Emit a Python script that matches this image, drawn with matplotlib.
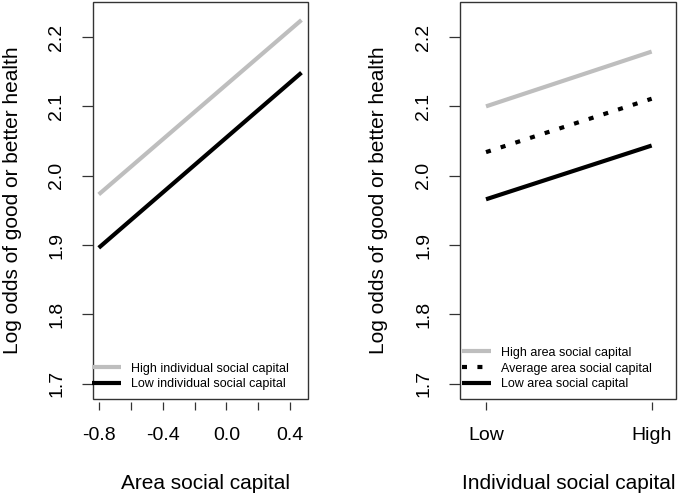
import matplotlib
matplotlib.use("Agg")
import matplotlib.pyplot as plt
from matplotlib.patches import Rectangle

plt.rcParams['font.family'] = ['Liberation Sans', 'DejaVu Sans']
plt.rcParams['axes.unicode_minus'] = False

# left panel: log odds vs area social capital
area_x = [-0.8, 0.47]
high_indiv = [1.973, 2.2245]
low_indiv = [1.896, 2.1486]
area_ticks = [-0.8, -0.6, -0.4, -0.2, 0.0, 0.2, 0.4]
area_ticklabels = ['-0.8', '', '-0.4', '', '0.0', '', '0.4']

# right panel: log odds vs individual social capital
indiv_x = [1, 2]
indiv_ticklabels = ['Low', 'High']
high_area = [2.100, 2.179]
avg_area = [2.034, 2.111]
low_area = [1.966, 2.0435]

y_ticks = [1.7, 1.8, 1.9, 2.0, 2.1, 2.2]
y_ticklabels = ['1.7', '1.8', '1.9', '2.0', '2.1', '2.2']

GREY = '#bebebe'
LW = 3.0

fig = plt.figure(figsize=(6.85, 4.96), dpi=100)
ax1 = fig.add_axes([93 / 685, 1 - 399 / 496, 215 / 685, 397 / 496])
ax2 = fig.add_axes([460 / 685, 1 - 399 / 496, 216 / 685, 397 / 496])


def style_axes(ax, xlabel, xlabel_x):
    ax.set_ylim(1.678, 2.2505)
    ax.set_yticks(y_ticks, y_ticklabels)
    for s in ax.spines.values():
        s.set_visible(False)
    ax.spines['bottom'].set_position(('outward', 2.5))
    ax.add_patch(Rectangle((0, 0), 1, 1, transform=ax.transAxes, fill=False,
                           edgecolor='#333333', linewidth=1.0, clip_on=False))
    ax.tick_params(axis='y', direction='out', length=8, width=0.9, pad=12,
                   labelsize=14, labelrotation=90, color='#333333')
    ax.tick_params(axis='x', direction='out', length=6, width=0.9, pad=12,
                   labelsize=14, color='#333333')
    for lbl in ax.get_yticklabels():
        lbl.set_va('center')
    ax.set_ylabel('Log odds of good or better health', fontsize=15, va='center')
    ax.yaxis.set_label_coords(-0.375, 0.5)
    ax.set_xlabel(xlabel, fontsize=15, va='center')
    ax.xaxis.set_label_coords(xlabel_x, -0.212)


def add_legend(ax, x0):
    ax.legend(loc='lower left', bbox_to_anchor=(x0, 0.022), frameon=False,
              fontsize=9, handlelength=2.3, handletextpad=0.8,
              labelspacing=0.3, borderpad=0, borderaxespad=0)


ax1.plot(area_x, high_indiv, color=GREY, lw=LW, solid_capstyle='butt',
         label='High individual social capital')
ax1.plot(area_x, low_indiv, color='black', lw=LW, solid_capstyle='butt',
         label='Low individual social capital')
ax1.set_xlim(-0.836, 0.511)
ax1.set_xticks(area_ticks, area_ticklabels)
style_axes(ax1, 'Area social capital', 0.525)
add_legend(ax1, -0.005)

ax2.plot(indiv_x, high_area, color=GREY, lw=LW, solid_capstyle='butt',
         label='High area social capital')
ax2.plot(indiv_x, avg_area, color='black', lw=LW, dashes=(1.2, 2.5),
         dash_capstyle='butt', label='Average area social capital')
ax2.plot(indiv_x, low_area, color='black', lw=LW, solid_capstyle='butt',
         label='Low area social capital')
ax2.set_xlim(0.843, 2.147)
ax2.set_xticks(indiv_x, indiv_ticklabels)
style_axes(ax2, 'Individual social capital', 0.503)
add_legend(ax2, 0.009)

fig.savefig('out.png', dpi=100)
